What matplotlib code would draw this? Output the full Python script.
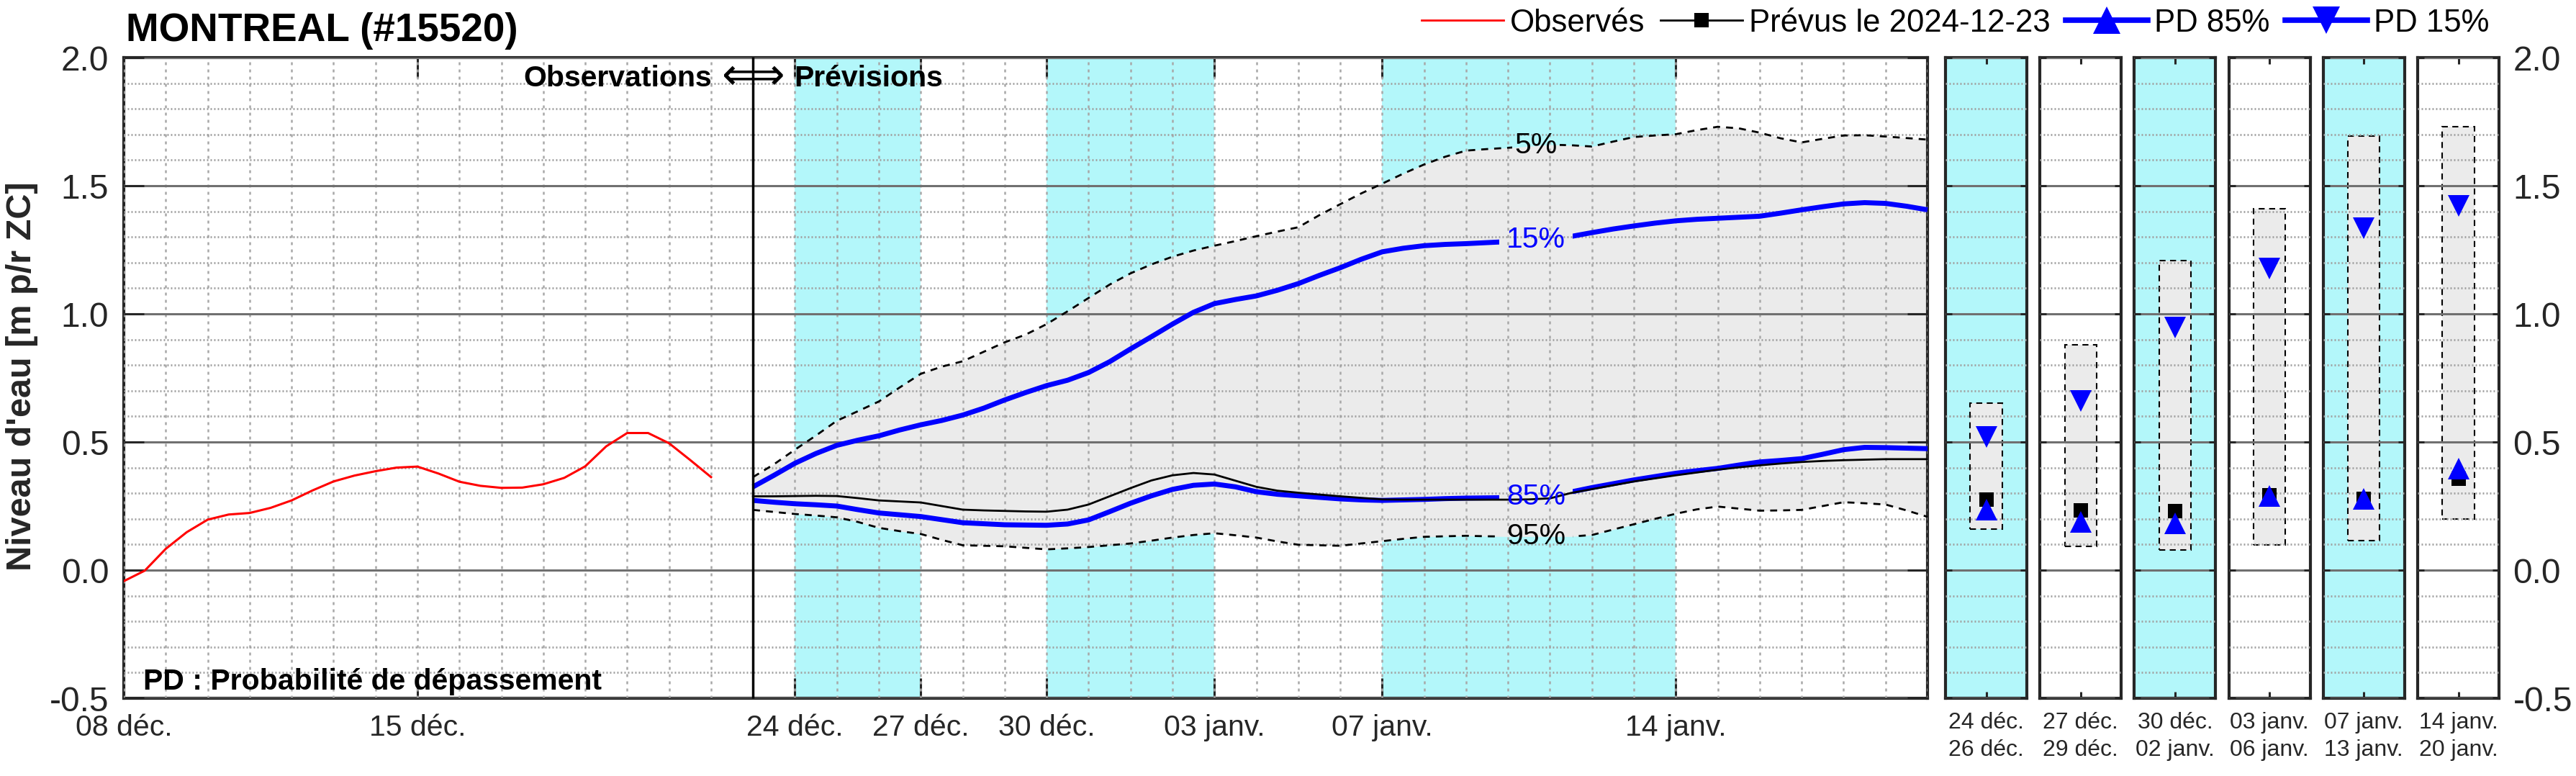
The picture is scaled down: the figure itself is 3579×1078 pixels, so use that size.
import numpy as np
import pandas as pd
import matplotlib
matplotlib.use('Agg')
import matplotlib.pyplot as plt
import matplotlib.dates as mdates
from matplotlib.patches import Rectangle
from matplotlib.lines import Line2D

plt.rcParams['font.family'] = ['Liberation Sans', 'DejaVu Sans']
plt.rcParams['axes.unicode_minus'] = False

# ---- data ----
station = 'MONTREAL (#15520)'
issue_date = '2024-12-23'

obs_dates = pd.date_range('2024-12-08', '2024-12-22', freq='12h')
obs_level = [-0.043, -0.002, 0.083, 0.148, 0.197, 0.217, 0.223, 0.243, 0.272, 0.311,
             0.346, 0.369, 0.386, 0.400, 0.404, 0.377, 0.345, 0.329, 0.321, 0.322,
             0.335, 0.360, 0.405, 0.483, 0.535, 0.535, 0.495, 0.430, 0.363]

fc_dates = pd.date_range('2024-12-23', '2025-01-20', freq='12h')
fc_prevu = [0.288, 0.288, 0.289, 0.290, 0.289, 0.281, 0.272, 0.268, 0.264, 0.250,
            0.236, 0.233, 0.231, 0.229, 0.228, 0.236, 0.256, 0.288, 0.320, 0.350,
            0.370, 0.379, 0.373, 0.349, 0.325, 0.310, 0.302, 0.295, 0.288, 0.282,
            0.276, 0.275, 0.275, 0.275, 0.275, 0.275, 0.275, 0.276, 0.280, 0.301,
            0.316, 0.331, 0.346, 0.358, 0.370, 0.381, 0.392, 0.401, 0.409, 0.416,
            0.422, 0.426, 0.429, 0.431, 0.433, 0.433, 0.433]
fc_p05 = [0.363, 0.413, 0.470, 0.525, 0.583, 0.620, 0.658, 0.713, 0.766, 0.794,
          0.815, 0.852, 0.889, 0.919, 0.960, 1.010, 1.062, 1.114, 1.158, 1.193,
          1.223, 1.247, 1.266, 1.284, 1.303, 1.321, 1.338, 1.385, 1.428, 1.470,
          1.508, 1.547, 1.583, 1.613, 1.637, 1.643, 1.648, 1.654, 1.660, 1.658,
          1.653, 1.672, 1.690, 1.696, 1.701, 1.717, 1.730, 1.724, 1.707, 1.685,
          1.669, 1.683, 1.696, 1.697, 1.692, 1.686, 1.680]
fc_p15 = [0.325, 0.370, 0.417, 0.455, 0.487, 0.507, 0.524, 0.547, 0.567, 0.584,
          0.605, 0.632, 0.664, 0.693, 0.720, 0.741, 0.771, 0.813, 0.863, 0.911,
          0.960, 1.006, 1.040, 1.056, 1.070, 1.092, 1.118, 1.150, 1.180, 1.213,
          1.242, 1.256, 1.266, 1.271, 1.274, 1.278, 1.282, 1.287, 1.294, 1.302,
          1.317, 1.331, 1.343, 1.354, 1.363, 1.369, 1.373, 1.377, 1.381, 1.393,
          1.406, 1.418, 1.429, 1.434, 1.431, 1.420, 1.406]
fc_p85 = [0.272, 0.265, 0.259, 0.255, 0.250, 0.236, 0.223, 0.216, 0.209, 0.197,
          0.185, 0.181, 0.177, 0.176, 0.175, 0.180, 0.196, 0.228, 0.261, 0.290,
          0.315, 0.331, 0.336, 0.325, 0.306, 0.296, 0.290, 0.284, 0.278, 0.274,
          0.272, 0.274, 0.276, 0.279, 0.281, 0.282, 0.283, 0.285, 0.290, 0.305,
          0.322, 0.337, 0.352, 0.365, 0.378, 0.388, 0.397, 0.410, 0.422, 0.428,
          0.435, 0.452, 0.470, 0.479, 0.478, 0.476, 0.474]
fc_p95 = [0.235, 0.227, 0.219, 0.213, 0.206, 0.188, 0.165, 0.152, 0.141, 0.118,
          0.097, 0.095, 0.093, 0.087, 0.081, 0.085, 0.090, 0.097, 0.104, 0.115,
          0.127, 0.137, 0.144, 0.136, 0.127, 0.112, 0.099, 0.097, 0.095, 0.104,
          0.113, 0.122, 0.130, 0.132, 0.134, 0.132, 0.131, 0.131, 0.131, 0.131,
          0.137, 0.158, 0.179, 0.200, 0.220, 0.237, 0.248, 0.240, 0.232, 0.233,
          0.235, 0.250, 0.265, 0.261, 0.256, 0.233, 0.208]

tick_dates = ['2024-12-08', '2024-12-15', '2024-12-24', '2024-12-27', '2024-12-30',
              '2025-01-03', '2025-01-07', '2025-01-14']
tick_labels = ['08 déc.', '15 déc.', '24 déc.', '27 déc.', '30 déc.',
               '03 janv.', '07 janv.', '14 janv.']
bands = [('2024-12-24', '2024-12-27'), ('2024-12-30', '2025-01-03'), ('2025-01-07', '2025-01-14')]

period_labels = ['24 déc.\n26 déc.', '27 déc.\n29 déc.', '30 déc.\n02 janv.',
                 '03 janv.\n06 janv.', '07 janv.\n13 janv.', '14 janv.\n20 janv.']
period_top = [0.653, 0.880, 1.207, 1.410, 1.693, 1.729]
period_bot = [0.161, 0.093, 0.079, 0.098, 0.115, 0.200]
period_p15 = [0.520, 0.660, 0.948, 1.178, 1.335, 1.422]
period_prevu = [0.275, 0.233, 0.230, 0.293, 0.279, 0.357]
period_p85 = [0.236, 0.188, 0.183, 0.289, 0.277, 0.396]
period_shaded = [True, False, True, False, True, False]

# ---- style ----
CYAN = '#b3f7fa'
FILL = '#ebebeb'
SPINE = '#262626'
W, H = 3580, 1078


def box(l, t, r, b):
    return [l / W, 1 - b / H, (r - l) / W, (b - t) / H]


def style_grid(a, vertical=True):
    a.set_axisbelow(False)
    a.yaxis.grid(True, which='major', color='#707070', lw=2.2, ls='-')
    a.yaxis.grid(True, which='minor', color='#a0a0a0', lw=2.0, ls=(0, (0.7, 1.1)))
    if vertical:
        a.xaxis.grid(True, which='minor', color='#a8a8a8', lw=1.8, ls=(0, (1.6, 2.4)))
    for s in a.spines.values():
        s.set_color(SPINE)
        s.set_linewidth(3)


fig = plt.figure(figsize=(W / 100, H / 100), dpi=100)

# ---- main axes ----
ax = fig.add_axes(box(172, 80, 2678, 970))
ax.set_xlim(pd.Timestamp('2024-12-08'), pd.Timestamp('2025-01-20'))
ax.set_ylim(-0.5, 2.0)

for a0, a1 in bands:
    ax.axvspan(pd.Timestamp(a0), pd.Timestamp(a1), color=CYAN, lw=0, zorder=0.5)
ax.fill_between(fc_dates, fc_p95, fc_p05, color=FILL, lw=0, zorder=1)

label_day = pd.Timestamp('2025-01-10 16:00')
lx = mdates.date2num(label_day)


def gapped(y, half, **kw):
    # line broken around its inline label
    xs = mdates.date2num(fc_dates)
    for lo, hi in [(xs[0] - 2, lx - half), (lx + half, xs[-1] + 2)]:
        ln, = ax.plot(fc_dates, y, **kw)
        ln.set_clip_path(Rectangle((lo, -1), hi - lo, 4, transform=ax.transData))


dash = dict(color='black', lw=2.0, ls=(0, (3.5, 3.0)), zorder=3)
gapped(fc_p05, 0.57, **dash)
gapped(fc_p95, 0.88, **dash)
gapped(fc_p15, 0.88, color='blue', lw=5, zorder=4, solid_capstyle='butt')
gapped(fc_p85, 0.88, color='blue', lw=5, zorder=4, solid_capstyle='butt')
ax.plot(fc_dates, fc_prevu, color='black', lw=2, zorder=5)
ax.plot(obs_dates, obs_level, color='red', lw=2.2, zorder=5)
ax.axvline(pd.Timestamp(issue_date), color='black', lw=2.5, zorder=5)

days_num = mdates.date2num(fc_dates)
for txt, y, c in [('5%', fc_p05, 'black'), ('15%', fc_p15, 'blue'),
                  ('85%', fc_p85, 'blue'), ('95%', fc_p95, 'black')]:
    ax.text(label_day, np.interp(lx, days_num, y), txt, color=c, fontsize=29.5,
            ha='center', va='center', zorder=6)

ax.set_xticks([pd.Timestamp(d) for d in tick_dates])
ax.set_xticklabels(tick_labels)
ax.xaxis.set_minor_locator(mdates.DayLocator())
ax.xaxis.remove_overlapping_locs = False
ax.set_yticks(np.arange(-0.5, 2.01, 0.5))
ax.set_yticklabels(['-0.5', '0.0', '0.5', '1.0', '1.5', '2.0'])
ax.set_yticks(np.arange(-0.5, 2.01, 0.1), minor=True)
ax.tick_params(which='major', direction='in', length=20, width=2.2, color=SPINE,
               top=True, right=True, labelcolor='#262626')
ax.tick_params(which='minor', length=0)
ax.tick_params(axis='x', labelsize=29.5, pad=16)
ax.tick_params(axis='y', labelsize=34.5, pad=15)
style_grid(ax)

# ---- period panels ----
for i in range(6):
    left = 2703 + i * 131.2
    pax = fig.add_axes(box(left, 80, left + 113, 970))
    pax.set_facecolor(CYAN if period_shaded[i] else 'white')
    pax.set_xlim(0, 1)
    pax.set_ylim(-0.5, 2.0)
    pax.add_patch(Rectangle((0.305, period_bot[i]), 0.39, period_top[i] - period_bot[i],
                            facecolor=FILL, edgecolor='black', lw=1.5,
                            ls=(0, (4, 3)), zorder=1))
    pax.plot([0.5], [period_prevu[i]], 's', color='black', ms=15, mew=0, zorder=4)
    pax.plot([0.5], [period_p85[i]], '^', color='blue', ms=21, mew=0, zorder=5)
    pax.plot([0.5], [period_p15[i]], 'v', color='blue', ms=21, mew=0, zorder=5)
    pax.set_xticks([0.5])
    pax.set_xticklabels([period_labels[i]], fontsize=23, linespacing=1.35)
    pax.set_yticks(np.arange(-0.5, 2.01, 0.5))
    pax.set_yticklabels(['-0.5', '0.0', '0.5', '1.0', '1.5', '2.0'])
    pax.set_yticks(np.arange(-0.5, 2.01, 0.1), minor=True)
    pax.tick_params(which='major', direction='in', length=6.5, width=2.2, color=SPINE,
                    top=True, right=True, left=True, labelleft=False,
                    labelright=(i == 5), labelcolor='#262626')
    pax.tick_params(which='minor', length=0)
    pax.tick_params(axis='x', pad=14)
    pax.tick_params(axis='y', labelsize=34.5, pad=14)
    style_grid(pax, vertical=False)

# ---- texts ----
fig.text(175 / W, 1 - 57 / H, station, fontsize=39.5, fontweight='bold',
         ha='left', va='baseline')
fig.text(31 / W, 1 - 523 / H, "Niveau d'eau [m p/r ZC]", fontsize=35, fontweight='bold',
         rotation=90, ha='center', va='center', color='#262626')
fig.text(989 / W, 1 - 120 / H, 'Observations', fontsize=29.5, fontweight='bold',
         ha='right', va='baseline')
fig.text(1046 / W, 1 - 108 / H, '\u27fa', fontsize=44, ha='center', va='center',
         family='DejaVu Sans')
fig.text(1103 / W, 1 - 120 / H, 'Prévisions', fontsize=29.5, fontweight='bold',
         ha='left', va='baseline')
fig.text(199 / W, 1 - 958 / H, 'PD : Probabilité de dépassement', fontsize=29.5,
         fontweight='bold', ha='left', va='baseline')

handles = [Line2D([], [], color='red', lw=2),
           Line2D([], [], color='black', lw=2, marker='s', ms=14, mew=0),
           Line2D([], [], color='blue', lw=5.5, marker='^', ms=27, mew=0),
           Line2D([], [], color='blue', lw=5.5, marker='v', ms=27, mew=0)]
labels = ['Observés', 'Prévus le ' + issue_date, 'PD 85%', 'PD 15%']
fig.legend(handles, labels, loc='center right', bbox_to_anchor=(3458 / W, 1 - 32 / H),
           ncol=4, frameon=False, fontsize=31.5, handlelength=2.6, handletextpad=0.2,
           columnspacing=0.5, borderpad=0, borderaxespad=0)

fig.savefig('out.png', dpi=100)
